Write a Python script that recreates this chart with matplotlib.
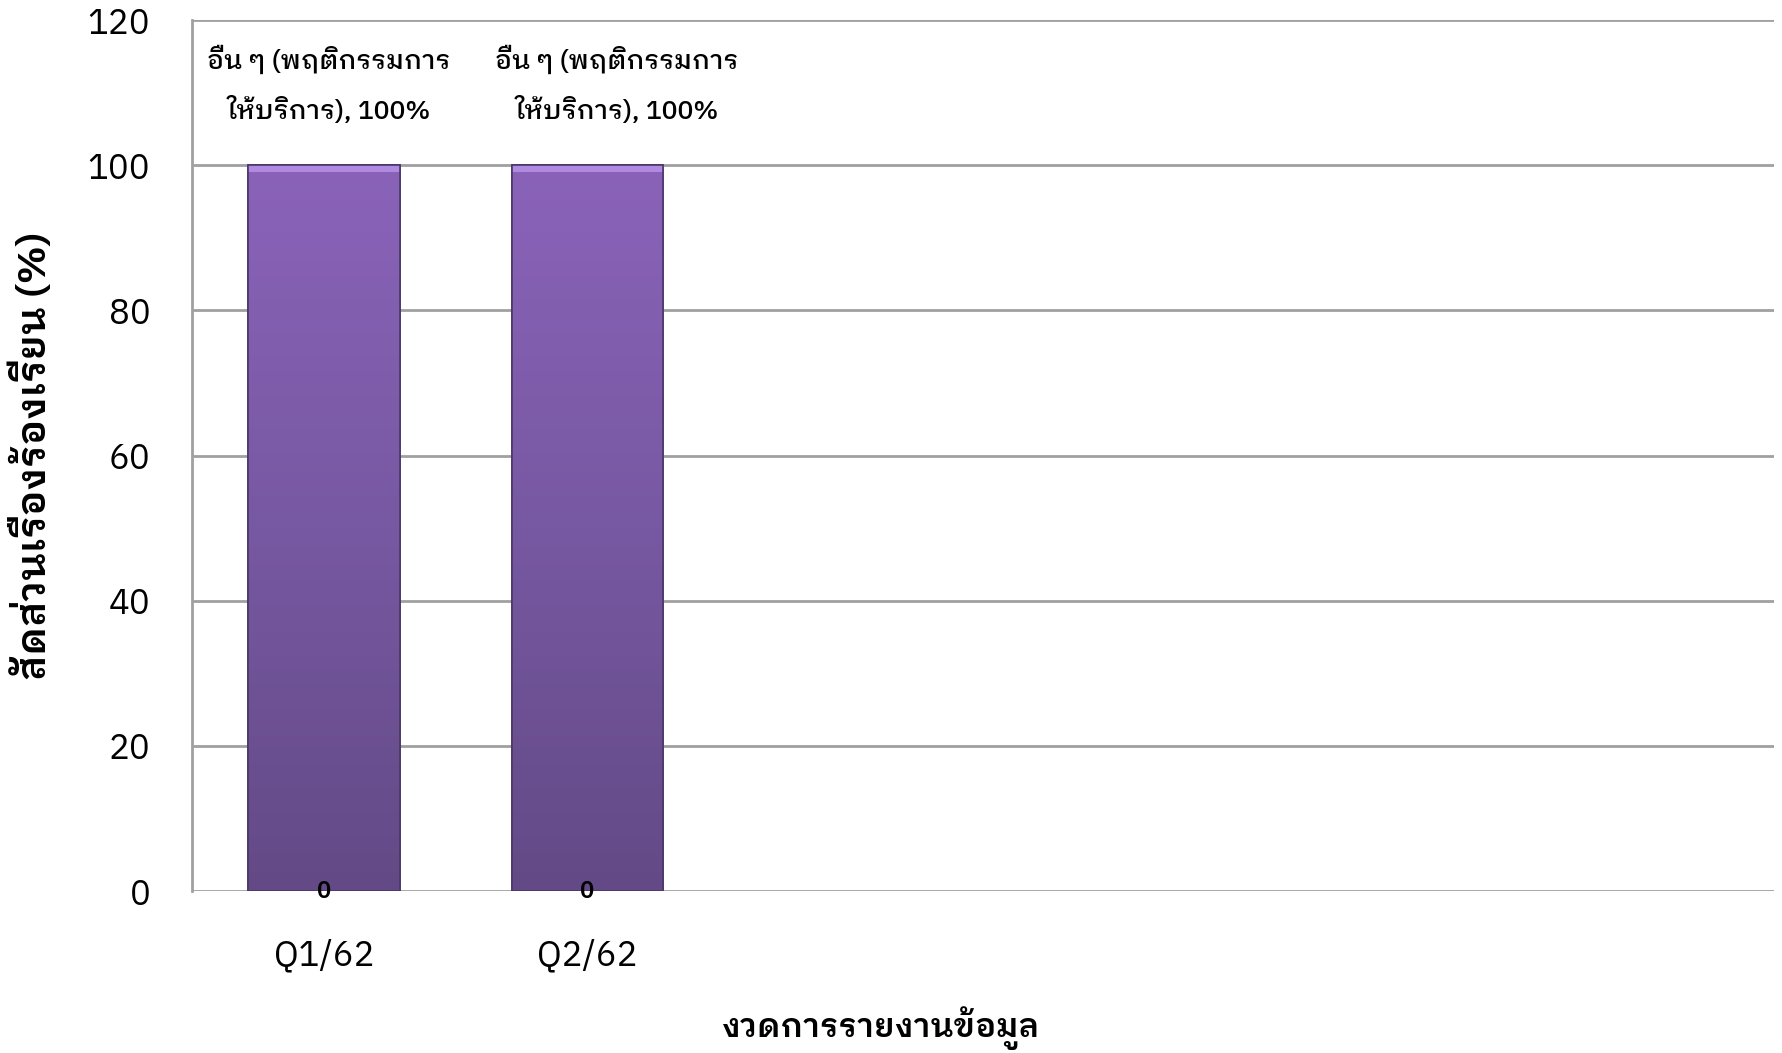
import numpy as np
import matplotlib
matplotlib.use("Agg")
import matplotlib.pyplot as plt
from matplotlib.colors import LinearSegmentedColormap

plt.rcParams['font.family'] = ['IBM Plex Sans Thai Looped', 'Noto Sans Thai Looped', 'DejaVu Sans']

# data
periods = ["Q1/62", "Q2/62"]
share = [100, 100]            # อื่น ๆ (พฤติกรรมการให้บริการ)
other = [0, 0]                # second series, all zero
series_name = "อื่น ๆ (พฤติกรรมการ\nให้บริการ)"
n_slots = 6                   # chart keeps room for 6 periods
yticks = [0, 20, 40, 60, 80, 100, 120]

fig = plt.figure(figsize=(17.83, 10.53), dpi=100)
ax = fig.add_axes([0.1077, 0.1538, 0.8873, 0.8272])

x = np.arange(len(periods))
width = 0.576

# bars (gradient purple with light bevel on top)
cmap = LinearSegmentedColormap.from_list("purp", ["#634a86", "#7758a2", "#8a63b9"])
bars = ax.bar(x, share, width=width, color="#7a5aa6", edgecolor="#4a3868",
              linewidth=1.2, zorder=2)
grad = np.linspace(0, 1, 256).reshape(-1, 1)
for b in bars:
    x0, w, h = b.get_x(), b.get_width(), b.get_height()
    ax.imshow(grad, extent=[x0, x0 + w, 0, h], origin="lower", aspect="auto",
              cmap=cmap, zorder=3)
    ax.add_patch(plt.Rectangle((x0, h - 0.9), w, 0.9, color="#b08ae0", zorder=4, lw=0))
    ax.add_patch(plt.Rectangle((x0, 0), w, h, fill=False, edgecolor="#4a3868",
                               lw=1.2, zorder=5))

ax.set_xlim(-0.5, n_slots - 0.5)
ax.set_ylim(0, 120)
ax.set_yticks(yticks)
ax.set_xticks(x)
ax.set_xticklabels(periods)
ax.tick_params(axis="y", length=0, pad=30, labelsize=25)
ax.tick_params(axis="x", length=0, pad=34, labelsize=25)

ax.grid(axis="y", color="#a0a0a0", linewidth=2, zorder=0)
ax.set_axisbelow(True)
for s in ["top", "right", "bottom"]:
    ax.spines[s].set_visible(False)
ax.spines["left"].set_color("#a0a0a0")
ax.spines["left"].set_linewidth(2)

# data labels
label_dx = [0.02, 0.11]
for i, v in enumerate(share):
    ax.text(x[i] + label_dx[i], 111.2, f"{series_name}, {v}%",
            ha="center", va="center", fontsize=19, fontweight="medium",
            linespacing=1.95)
for i, v in enumerate(other):
    ax.text(x[i], v, str(v), ha="center", va="center", fontsize=17,
            fontweight="semibold", zorder=6)

ax.set_ylabel("สัดส่วนเรื่องร้องเรียน (%)", fontsize=28.5, fontweight="semibold", labelpad=24)
fig.text(0.494, 0.024, "งวดการรายงานข้อมูล", ha="center", va="center",
         fontsize=23.5, fontweight="semibold")

fig.savefig("out.png")
